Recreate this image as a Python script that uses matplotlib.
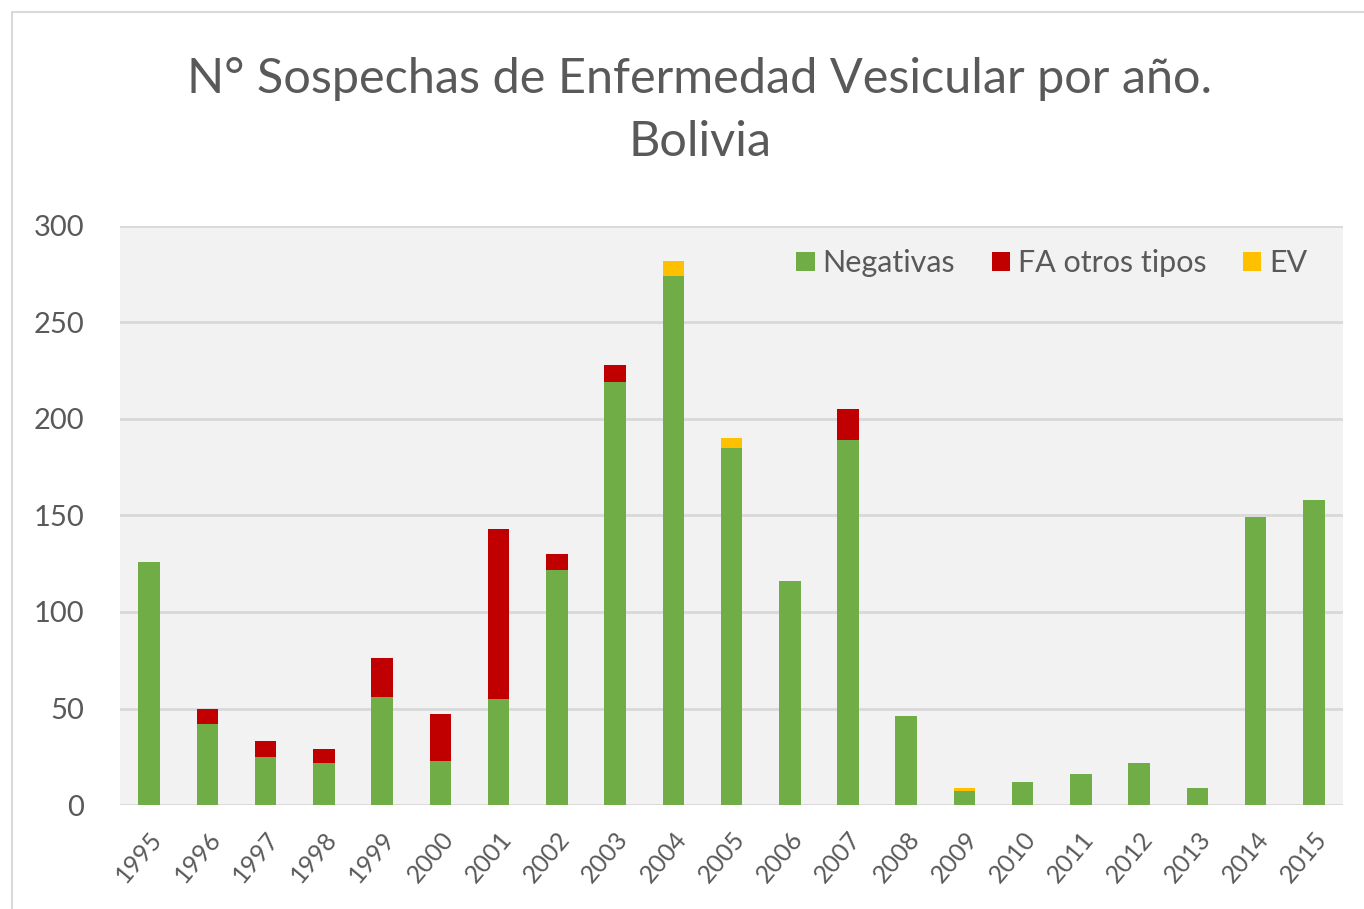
import numpy as np
import matplotlib.pyplot as plt
from matplotlib.patches import Rectangle

plt.rcParams['font.family'] = ['Lato', 'DejaVu Sans']

#%% datos
anios = ['1995', '1996', '1997', '1998', '1999', '2000', '2001', '2002', '2003', '2004', '2005',
         '2006', '2007', '2008', '2009', '2010', '2011', '2012', '2013', '2014', '2015']
negativas = [126, 42, 25, 22, 56, 23, 55, 122, 219, 274, 185, 116, 189, 46, 7, 12, 16, 22, 9, 149, 158]
fa_otros = [0, 8, 8, 7, 20, 24, 88, 8, 9, 0, 0, 0, 16, 0, 0, 0, 0, 0, 0, 0, 0]
ev = [0, 0, 0, 0, 0, 0, 0, 0, 0, 8, 5, 0, 0, 0, 2, 0, 0, 0, 0, 0, 0]

gris = '#595959'

#%%
fig = plt.figure(figsize=(13.64, 9.09), dpi=100)
ax = fig.add_axes([0.088, 0.1144, 0.8966, 0.637])
ax.set_facecolor('#F2F2F2')

x = np.arange(len(anios))
neg = np.array(negativas)
fa = np.array(fa_otros)
ax.bar(x, negativas, width=0.37, color='#70AD47', label='Negativas', zorder=3)
ax.bar(x, fa_otros, width=0.37, bottom=neg, color='#C00000', label='FA otros tipos', zorder=3)
ax.bar(x, ev, width=0.37, bottom=neg + fa, color='#FFC000', label='EV', zorder=3)

ax.set_xlim(-0.5, len(anios) - 0.5)
ax.set_ylim(0, 300)
ax.set_yticks(np.arange(0, 301, 50))
ax.yaxis.grid(True, color='#D9D9D9', linewidth=2, zorder=0)
for s in ax.spines.values():
    s.set_visible(False)
ax.tick_params(length=0)
ax.tick_params(axis='y', labelsize=21, labelcolor=gris, pad=26)
ax.set_xticks(x)
ax.set_xticklabels(anios, rotation=50, ha='right', rotation_mode='anchor',
                   fontsize=18, color=gris)
ax.tick_params(axis='x', pad=16)

ax.legend(loc='upper right', ncol=3, frameon=False, fontsize=22, labelcolor=gris,
          handlelength=0.6, handleheight=0.6, handletextpad=0.25, columnspacing=1.2,
          bbox_to_anchor=(0.993, 1.007))

fig.text(0.513, 0.8784, 'N° Sospechas de Enfermedad Vesicular por año.\nBolivia',
         ha='center', va='center', fontsize=35, color=gris, linespacing=1.55)

fig.patches.append(Rectangle((0.009, -0.01), 1.2, 0.997, transform=fig.transFigure,
                             fill=False, edgecolor='#D9D9D9', linewidth=1.5))

fig.savefig('out.png', dpi=100)
